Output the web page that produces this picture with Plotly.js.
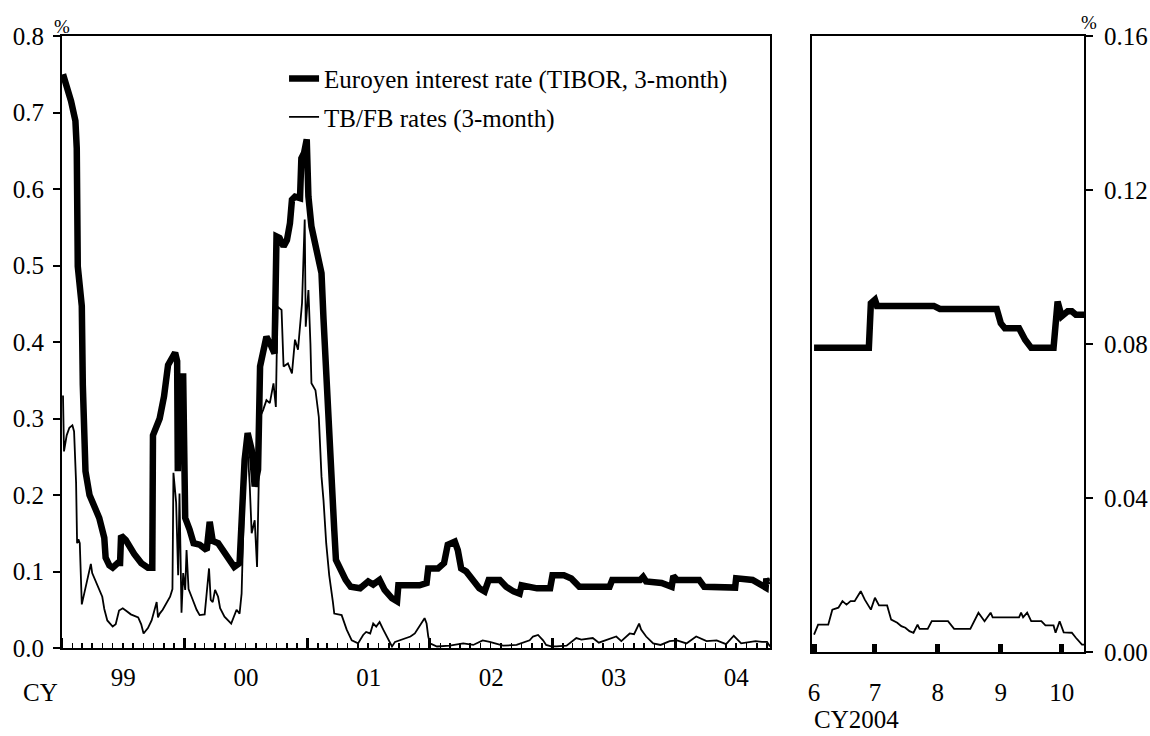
<!DOCTYPE html>
<html>
<head>
<meta charset="utf-8">
<script src="https://cdn.plot.ly/plotly-3.0.1.min.js"></script>
<style>html,body{margin:0;padding:0;background:#fff;}#chart{width:1150px;height:736px;}</style>
</head>
<body>
<div id="chart"></div>
<script>
// ---- Left panel (CY1999 - CY2004), daily data ----
const tiborDates = ['1999-01-04','1999-01-18','1999-01-28','1999-02-10','1999-02-14','1999-02-17','1999-02-23','1999-03-01','1999-03-04','1999-03-07','1999-03-12','1999-03-24','1999-04-07','1999-04-22','1999-05-07','1999-05-11','1999-05-22','1999-06-01','1999-06-16','1999-06-23','1999-06-26','1999-07-10','1999-08-04','1999-08-25','1999-09-14','1999-09-27','1999-09-29','1999-10-10','1999-10-19','1999-11-01','1999-11-13','1999-12-04','1999-12-10','1999-12-12','1999-12-16','1999-12-28','2000-01-03','2000-01-16','2000-01-28','2000-02-15','2000-03-07','2000-03-16','2000-03-25','2000-04-10','2000-05-07','2000-05-28','2000-06-13','2000-06-28','2000-07-07','2000-07-19','2000-07-28','2000-08-07','2000-08-13','2000-08-22','2000-09-01','2000-09-16','2000-09-25','2000-10-01','2000-10-10','2000-10-22','2000-11-01','2000-11-10','2000-11-16','2000-11-25','2000-12-10','2000-12-14','2000-12-22','2000-12-30','2001-01-04','2001-01-13','2001-01-25','2001-02-06','2001-02-12','2001-02-18','2001-02-26','2001-03-04','2001-03-12','2001-03-18','2001-03-22','2001-03-27','2001-04-10','2001-04-25','2001-05-10','2001-06-07','2001-07-01','2001-07-16','2001-08-04','2001-08-19','2001-09-10','2001-09-25','2001-09-29','2001-12-01','2001-12-22','2001-12-27','2002-01-25','2002-02-12','2002-02-23','2002-03-16','2002-03-25','2002-04-04','2002-04-19','2002-05-10','2002-05-28','2002-06-13','2002-06-25','2002-07-28','2002-08-16','2002-09-07','2002-09-25','2002-10-01','2002-10-25','2002-11-16','2002-12-25','2003-01-01','2003-02-04','2003-02-26','2003-03-22','2003-06-20','2003-06-28','2003-09-19','2003-09-28','2003-10-07','2003-11-22','2003-12-22','2003-12-27','2004-01-07','2004-03-13','2004-03-28','2004-06-28','2004-07-01','2004-08-19','2004-09-16','2004-09-27','2004-09-29','2004-10-01','2004-10-08'];
const tiborValues = [0.750,0.730,0.715,0.689,0.653,0.499,0.473,0.447,0.344,0.252,0.231,0.200,0.185,0.170,0.144,0.118,0.108,0.105,0.111,0.111,0.147,0.141,0.123,0.111,0.105,0.105,0.278,0.288,0.300,0.329,0.370,0.386,0.375,0.231,0.355,0.355,0.170,0.155,0.137,0.135,0.128,0.165,0.140,0.137,0.120,0.106,0.111,0.246,0.281,0.259,0.211,0.233,0.368,0.390,0.407,0.394,0.385,0.538,0.536,0.525,0.533,0.555,0.586,0.590,0.588,0.640,0.647,0.665,0.590,0.551,0.525,0.500,0.490,0.430,0.370,0.300,0.250,0.200,0.154,0.115,0.102,0.089,0.080,0.078,0.087,0.083,0.089,0.076,0.065,0.061,0.082,0.082,0.085,0.104,0.104,0.111,0.135,0.139,0.128,0.104,0.100,0.089,0.078,0.074,0.089,0.089,0.080,0.074,0.071,0.082,0.080,0.078,0.078,0.095,0.095,0.091,0.080,0.080,0.089,0.089,0.093,0.087,0.085,0.080,0.094,0.089,0.089,0.080,0.079,0.091,0.089,0.080,0.079,0.091,0.087,0.088];

const tbfbDates = ['1999-01-04','1999-01-07','1999-01-15','1999-01-23','1999-02-01','1999-02-06','1999-02-12','1999-02-15','1999-02-19','1999-02-23','1999-03-01','1999-03-10','1999-03-16','1999-03-28','1999-04-01','1999-04-11','1999-04-22','1999-05-01','1999-05-07','1999-05-16','1999-06-01','1999-06-10','1999-06-20','1999-07-01','1999-07-10','1999-07-25','1999-08-16','1999-08-25','1999-09-01','1999-09-14','1999-09-25','1999-10-04','1999-10-10','1999-10-14','1999-10-19','1999-10-28','1999-11-10','1999-11-19','1999-11-26','1999-11-29','1999-12-07','1999-12-13','1999-12-17','1999-12-23','1999-12-28','2000-01-03','2000-01-07','2000-01-13','2000-01-22','2000-02-06','2000-02-15','2000-03-01','2000-03-14','2000-03-19','2000-03-25','2000-04-01','2000-04-10','2000-04-16','2000-04-29','2000-05-19','2000-06-04','2000-06-13','2000-06-19','2000-06-25','2000-06-29','2000-07-07','2000-07-13','2000-07-19','2000-07-28','2000-08-04','2000-08-13','2000-08-22','2000-09-01','2000-09-11','2000-09-22','2000-09-29','2000-10-04','2000-10-16','2000-10-22','2000-11-04','2000-11-16','2000-11-25','2000-12-04','2000-12-16','2000-12-24','2000-12-27','2001-01-04','2001-01-10','2001-01-13','2001-01-25','2001-02-04','2001-02-12','2001-02-18','2001-02-26','2001-03-07','2001-03-18','2001-03-22','2001-04-13','2001-04-28','2001-05-13','2001-06-01','2001-06-16','2001-06-25','2001-07-07','2001-07-16','2001-07-25','2001-08-04','2001-08-15','2001-08-30','2001-09-10','2001-09-19','2001-10-04','2001-10-19','2001-11-04','2001-11-17','2001-12-01','2001-12-16','2001-12-22','2001-12-27','2002-01-01','2002-01-22','2002-03-01','2002-04-10','2002-05-10','2002-06-07','2002-06-28','2002-07-16','2002-08-07','2002-09-16','2002-10-25','2002-11-04','2002-11-19','2002-12-04','2002-12-13','2002-12-28','2003-01-13','2003-02-12','2003-03-13','2003-03-28','2003-05-01','2003-05-19','2003-06-16','2003-07-10','2003-07-25','2003-08-19','2003-09-01','2003-09-16','2003-09-22','2003-10-07','2003-10-28','2003-11-19','2003-12-16','2004-01-07','2004-02-04','2004-03-04','2004-04-04','2004-05-04','2004-06-01','2004-06-24','2004-07-16','2004-08-10','2004-08-28','2004-09-16','2004-10-01','2004-10-10'];
const tbfbValues = [0.330,0.257,0.278,0.288,0.291,0.283,0.216,0.137,0.142,0.137,0.057,0.075,0.087,0.110,0.098,0.087,0.075,0.067,0.051,0.036,0.028,0.031,0.049,0.052,0.049,0.044,0.040,0.031,0.019,0.026,0.036,0.051,0.060,0.040,0.045,0.050,0.060,0.067,0.077,0.229,0.190,0.095,0.202,0.046,0.098,0.076,0.128,0.077,0.067,0.050,0.043,0.044,0.104,0.063,0.060,0.076,0.067,0.052,0.041,0.032,0.050,0.045,0.071,0.155,0.237,0.259,0.215,0.150,0.167,0.106,0.302,0.311,0.324,0.320,0.346,0.315,0.446,0.442,0.368,0.372,0.359,0.403,0.390,0.451,0.560,0.420,0.468,0.398,0.346,0.337,0.302,0.224,0.193,0.137,0.095,0.060,0.045,0.043,0.024,0.010,0.006,0.017,0.021,0.019,0.032,0.028,0.034,0.024,0.010,0.002,0.008,0.010,0.013,0.015,0.019,0.028,0.039,0.032,0.015,0.006,0.002,0.003,0.006,0.004,0.010,0.008,0.006,0.003,0.004,0.010,0.015,0.017,0.010,0.004,0.002,0.002,0.003,0.013,0.011,0.013,0.007,0.011,0.015,0.009,0.019,0.018,0.032,0.024,0.015,0.006,0.004,0.009,0.010,0.006,0.015,0.009,0.010,0.005,0.016,0.006,0.008,0.009,0.008,0.008,0.002];

// ---- Right panel (June - October 2004) ----
const tiborRDates = ['2004-06-01','2004-06-28','2004-06-29','2004-07-01','2004-07-02','2004-07-30','2004-08-02','2004-08-30','2004-09-01','2004-09-03','2004-09-10','2004-09-13','2004-09-16','2004-09-27','2004-09-29','2004-10-01','2004-10-04','2004-10-06','2004-10-08','2004-10-12'];
const tiborRValues = [0.0790,0.0790,0.0906,0.0915,0.0899,0.0899,0.0891,0.0891,0.0854,0.0841,0.0841,0.0811,0.0790,0.0790,0.0910,0.0872,0.0885,0.0885,0.0876,0.0876];
const tbfbRDates = ['2004-06-01','2004-06-03','2004-06-08','2004-06-10','2004-06-13','2004-06-15','2004-06-17','2004-06-19','2004-06-21','2004-06-24','2004-06-26','2004-06-29','2004-07-01','2004-07-03','2004-07-07','2004-07-09','2004-07-12','2004-07-14','2004-07-16','2004-07-18','2004-07-20','2004-07-22','2004-07-23','2004-07-27','2004-07-29','2004-08-06','2004-08-09','2004-08-17','2004-08-21','2004-08-24','2004-08-27','2004-08-28','2004-09-10','2004-09-11','2004-09-12','2004-09-14','2004-09-16','2004-09-21','2004-09-23','2004-09-27','2004-09-28','2004-09-30','2004-10-02','2004-10-06','2004-10-08','2004-10-11','2004-10-12'];
const tbfbRValues = [0.0045,0.0071,0.0071,0.0110,0.0115,0.0132,0.0123,0.0132,0.0132,0.0158,0.0136,0.0110,0.0141,0.0121,0.0121,0.0084,0.0076,0.0067,0.0063,0.0054,0.0050,0.0071,0.0060,0.0060,0.0080,0.0080,0.0060,0.0060,0.0102,0.0080,0.0102,0.0090,0.0090,0.0102,0.0090,0.0102,0.0080,0.0080,0.0069,0.0069,0.0050,0.0080,0.0051,0.0050,0.0037,0.0019,0.0019];

// ---- Tick labels ----
const yearTickFormat = '%y';            // gives 99, 00, 01, 02, 03, 04
const monthTickPos = ['2004-06-01','2004-07-01','2004-08-01','2004-09-01','2004-10-01'];
const monthLabels = ['6','7','8','9','10'];
const seriesNames = ['Euroyen interest rate (TIBOR, 3-month)', 'TB/FB rates (3-month)'];

const FONT = 'Liberation Serif';
const thick = {color: '#000', width: 6.5};
const thin = {color: '#000', width: 1.8};
const tf = {family: FONT, size: 25, color: '#000'};

const traces = [
  {x: tiborDates, y: tiborValues, xaxis: 'x', yaxis: 'y', mode: 'lines', line: thick, name: seriesNames[0], legendgroup: 'a'},
  {x: tbfbDates, y: tbfbValues, xaxis: 'x', yaxis: 'y', mode: 'lines', line: thin, name: seriesNames[1], legendgroup: 'b'},
  {x: tiborRDates, y: tiborRValues, xaxis: 'x2', yaxis: 'y2', mode: 'lines', line: thick, showlegend: false},
  {x: tbfbRDates, y: tbfbRValues, xaxis: 'x2', yaxis: 'y2', mode: 'lines', line: thin, showlegend: false}
];

const layout = {
  width: 1150, height: 736,
  margin: {l: 0, r: 0, t: 36, b: 84},
  paper_bgcolor: '#fff', plot_bgcolor: '#fff',
  font: tf,
  showlegend: true,
  legend: {x: 0.247, y: 0.968, xanchor: 'left', yanchor: 'top', bgcolor: 'rgba(0,0,0,0)',
           font: tf, traceorder: 'grouped', tracegroupgap: 3},
  xaxis: {
    type: 'date', domain: [0.0539, 0.6696], range: ['1999-01-01', '2004-10-10'], anchor: 'y',
    tickmode: 'linear', tick0: '1999-01-01', dtick: 'M12', tickformat: yearTickFormat, ticklabelmode: 'period',
    ticks: 'inside', ticklen: 10, tickwidth: 3, tickcolor: '#000', ticklabelstandoff: 6, tickfont: tf,
    minor: {ticks: 'inside', ticklen: 5, tickwidth: 1.5, tickcolor: '#000', dtick: 'M1', tick0: '1999-01-01', showgrid: false},
    showline: true, linecolor: '#000', linewidth: 2, mirror: true, showgrid: false, zeroline: false
  },
  yaxis: {
    domain: [0.0065, 1], range: [0, 0.8], dtick: 0.1, tick0: 0, tickformat: '.1f', anchor: 'x',
    ticks: 'outside', ticklen: 7, tickwidth: 2, tickcolor: '#000', ticklabelstandoff: 4, tickfont: tf,
    showline: true, linecolor: '#000', linewidth: 2, mirror: true, showgrid: false, zeroline: false
  },
  xaxis2: {
    type: 'date', domain: [0.7061, 0.9426], range: ['2004-05-31', '2004-10-12'], anchor: 'y2',
    tickmode: 'array', tickvals: monthTickPos, ticktext: monthLabels,
    ticks: 'inside', ticklen: 8, tickwidth: 5, tickcolor: '#000', ticklabelstandoff: 17, tickfont: tf,
    showline: true, linecolor: '#000', linewidth: 2, mirror: true, showgrid: false, zeroline: false
  },
  yaxis2: {
    domain: [0, 1], range: [0, 0.16], dtick: 0.04, tick0: 0, tickformat: '.2f', anchor: 'x2', side: 'right',
    ticks: 'outside', ticklen: 7, tickwidth: 2, tickcolor: '#000', ticklabelstandoff: 6, tickfont: tf,
    showline: true, linecolor: '#000', linewidth: 2, mirror: true, showgrid: false, zeroline: false
  },
  annotations: [
    {text: '%', xref: 'paper', yref: 'paper', x: 0.0539, y: 1, xanchor: 'center', yanchor: 'bottom', yshift: -3, showarrow: false, font: {family: FONT, size: 19, color: '#000'}},
    {text: '%', xref: 'paper', yref: 'paper', x: 0.9426, y: 1, xanchor: 'center', yanchor: 'bottom', xshift: 5, yshift: 1, showarrow: false, font: {family: FONT, size: 19, color: '#000'}},
    {text: 'CY', xref: 'paper', yref: 'paper', x: 0.035, y: -0.066, xanchor: 'center', yanchor: 'middle', showarrow: false, font: tf},
    {text: 'CY2004', xref: 'paper', yref: 'paper', x: 0.706, y: -0.11, xanchor: 'left', yanchor: 'middle', showarrow: false, font: tf}
  ]
};

Plotly.newPlot('chart', traces, layout, {staticPlot: true, displayModeBar: false});
</script>
</body>
</html>
